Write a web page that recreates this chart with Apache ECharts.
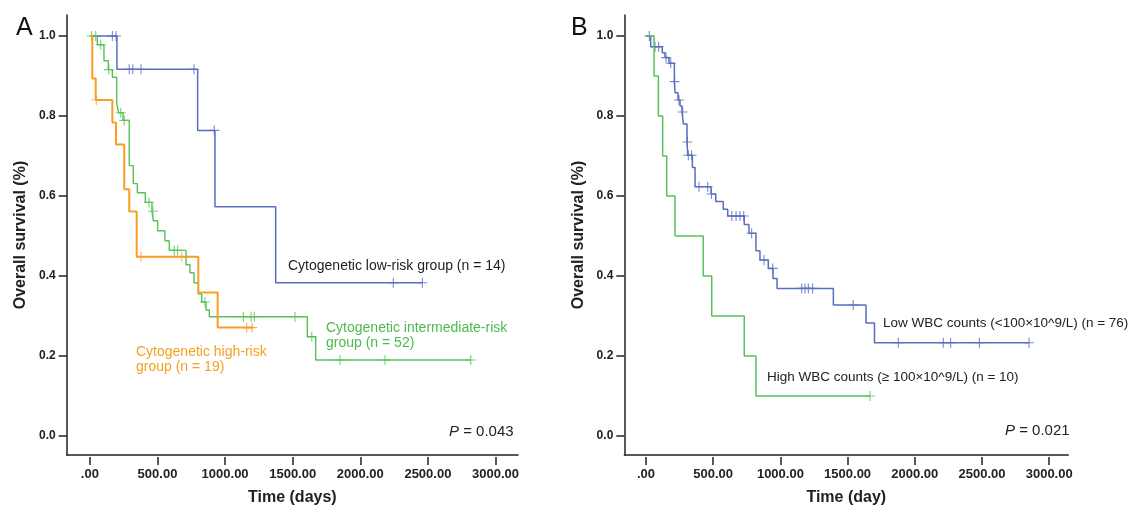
<!DOCTYPE html>
<html>
<head>
<meta charset="utf-8">
<script src="https://cdn.jsdelivr.net/npm/echarts@6/dist/echarts.min.js"></script>
<style>
html, body { margin: 0; padding: 0; background: #fff; }
#main { width: 1135px; height: 511px; }
</style>
</head>
<body>
<div id="main"></div>
<script>
// Panel A - cytogenetic risk groups (event times in days, survival after each step)
var lowTimes = [0, 200, 797, 925, 1374, 2459];
var lowSurv = [1, 0.917, 0.764, 0.573, 0.383, 0.383];
var lowCens = [166, 193, 291, 317, 378, 770, 920, 2244, 2459];

var midTimes = [0, 55, 104, 136, 166, 198, 212, 245, 291, 321, 351, 410, 459, 469, 501, 555, 587, 711, 740, 770, 802, 827, 859, 883, 1608, 1670, 2817];
var midSurv = [1, 0.978, 0.938, 0.916, 0.897, 0.832, 0.808, 0.789, 0.676, 0.631, 0.608, 0.584, 0.562, 0.538, 0.513, 0.488, 0.464, 0.428, 0.408, 0.383, 0.355, 0.335, 0.315, 0.298, 0.248, 0.19, 0.19];
var midCens = [13, 43, 80, 140, 228, 254, 437, 466, 624, 649, 851, 1135, 1192, 1216, 1517, 1641, 1850, 2183, 2817];

var highTimes = [0, 18, 43, 166, 193, 254, 291, 346, 802, 945, 1209];
var highSurv = [1, 0.894, 0.84, 0.784, 0.729, 0.617, 0.561, 0.448, 0.359, 0.271, 0.271];
var highCens = [47, 378, 679, 1160, 1200];

// Panel B - WBC counts
var lowWbcTimes = [0, 35, 121, 141, 171, 211, 216, 238, 253, 268, 278, 305, 311, 345, 365, 484, 519, 575, 608, 731, 766, 818, 848, 910, 945, 975, 1394, 1637, 1700, 2850];
var lowWbcSurv = [1, 0.973, 0.958, 0.946, 0.932, 0.886, 0.858, 0.84, 0.825, 0.81, 0.78, 0.735, 0.702, 0.671, 0.623, 0.605, 0.586, 0.567, 0.55, 0.529, 0.507, 0.463, 0.44, 0.419, 0.394, 0.369, 0.3275, 0.2825, 0.233, 0.233];
var lowWbcCens = [25, 67, 94, 149, 184, 213, 246, 273, 308, 315, 339, 394, 459, 487, 638, 670, 699, 727, 786, 878, 943, 1158, 1183, 1208, 1240, 1542, 1877, 2212, 2267, 2481, 2850];

var highWbcTimes = [0, 60, 92, 124, 154, 216, 426, 489, 731, 818, 1667];
var highWbcSurv = [1, 0.9, 0.8, 0.7, 0.6, 0.5, 0.4, 0.3, 0.2, 0.1, 0.1];
var highWbcCens = [1667];

var FONT = '"Liberation Sans", Arial, Helvetica, sans-serif';
var BLUE = '#5a6ebf', GREEN = '#58c25a', ORANGE = '#f99d26';
var PLUS = 'path://M4,0h1v4h4v1h-4v4h-1v-4h-4v-1h4z';

function steps(times, surv) {
    return times.map(function (t, i) { return [t, surv[i]]; });
}
// survival level of the curve at a censoring time
function censPoints(times, surv, cens) {
    return cens.map(function (c) {
        var v = surv[0];
        for (var i = 0; i < times.length; i++) {
            if (times[i] <= c) v = surv[i];
        }
        return [c, v];
    });
}

function curve(times, surv, cens, color, width, axis) {
    return [{
        type: 'line', step: 'end', xAxisIndex: axis, yAxisIndex: axis,
        data: steps(times, surv), showSymbol: false, silent: true, clip: false,
        lineStyle: { color: color, width: width }
    }, {
        type: 'scatter', xAxisIndex: axis, yAxisIndex: axis,
        data: censPoints(times, surv, cens), symbol: PLUS, symbolSize: 10,
        silent: true, clip: false,
        itemStyle: { color: color }
    }];
}

// axis that only draws the long black line (and the axis title)
function lineAxis(grid, min, max, name, nameGap) {
    return {
        type: 'value', gridIndex: grid, min: min, max: max,
        axisLine: { show: true, onZero: false, lineStyle: { color: '#222', width: 1.5 } },
        axisTick: { show: false }, axisLabel: { show: false }, splitLine: { show: false },
        name: name, nameLocation: 'middle', nameGap: nameGap,
        nameTextStyle: { fontFamily: FONT, fontWeight: 'bold', fontSize: 16, color: '#222' }
    };
}
// axis that only draws ticks and labels, shifted onto the line axis
function tickAxis(grid, min, max, interval, offset, fmt, size) {
    return {
        type: 'value', gridIndex: grid, min: min, max: max, interval: interval, offset: offset,
        axisLine: { show: false, onZero: false },
        axisTick: { show: true, length: 8, lineStyle: { color: '#222', width: 1.5 } },
        axisLabel: { show: true, margin: 11, formatter: fmt,
            fontFamily: FONT, fontWeight: 'bold', fontSize: size, color: '#222' },
        splitLine: { show: false }
    };
}
var xFmt = function (v) { return v === 0 ? '.00' : v.toFixed(2); };
var yFmt = function (v) { return v.toFixed(1); };

var series = [].concat(
    curve(lowTimes, lowSurv, lowCens, BLUE, 1.5, 1),
    curve(midTimes, midSurv, midCens, GREEN, 1.4, 1),
    curve(highTimes, highSurv, highCens, ORANGE, 2, 1),
    curve(lowWbcTimes, lowWbcSurv, lowWbcCens, BLUE, 1.5, 3),
    curve(highWbcTimes, highWbcSurv, highWbcCens, GREEN, 1.5, 3)
);

function txt(x, y, text, color, size, extra) {
    var s = { x: x, y: y, text: text, fill: color, font: size + 'px ' + FONT,
        textVerticalAlign: 'middle' };
    for (var k in extra) s[k] = extra[k];
    return { type: 'text', style: s, silent: true };
}
var pRich = { i: { fontStyle: 'italic', fontSize: 15, fontFamily: FONT, fill: '#222' } };

var chart = echarts.init(document.getElementById('main'));
chart.setOption({
    animation: false,
    backgroundColor: '#fff',
    grid: [
        { left: 66.7, right: 617, top: 15, bottom: 54 },
        { left: 89.9, right: 639.5, top: 36, bottom: 75 },
        { left: 624.3, right: 66.7, top: 15, bottom: 54 },
        { left: 646, right: 85.8, top: 36, bottom: 75 }
    ],
    xAxis: [
        lineAxis(0, -171.6, 3166, 'Time (days)', 35),
        tickAxis(1, 0, 3000, 500, 21, xFmt, 13),
        lineAxis(2, -161.5, 3142, 'Time (day)', 35),
        tickAxis(3, 0, 3000, 500, 21, xFmt, 13)
    ],
    yAxis: [
        lineAxis(0, -0.0525, 1.0525, 'Overall survival (%)', 38),
        tickAxis(1, 0, 1, 0.2, 23.2, yFmt, 12),
        lineAxis(2, -0.0525, 1.0525, 'Overall survival (%)', 38),
        tickAxis(3, 0, 1, 0.2, 21.7, yFmt, 12)
    ],
    series: series,
    graphic: [
        txt(16, 28, 'A', '#111', 25),
        txt(571, 28, 'B', '#111', 25),
        txt(288, 266, 'Cytogenetic low-risk group (n = 14)', '#222', 14),
        txt(326, 336, 'Cytogenetic intermediate-risk\ngroup (n = 52)', '#4dbb4d', 14, { lineHeight: 15 }),
        txt(136, 360, 'Cytogenetic high-risk\ngroup (n = 19)', '#f5a020', 14, { lineHeight: 15 }),
        txt(449, 432, '{i|P} = 0.043', '#222', 15, { rich: pRich }),
        txt(883, 323, 'Low WBC counts (<100×10^9/L) (n = 76)', '#222', 13.5),
        txt(767, 377, 'High WBC counts (≥ 100×10^9/L) (n = 10)', '#222', 13.5),
        txt(1005, 431, '{i|P} = 0.021', '#222', 15, { rich: pRich })
    ]
});
</script>
</body>
</html>
